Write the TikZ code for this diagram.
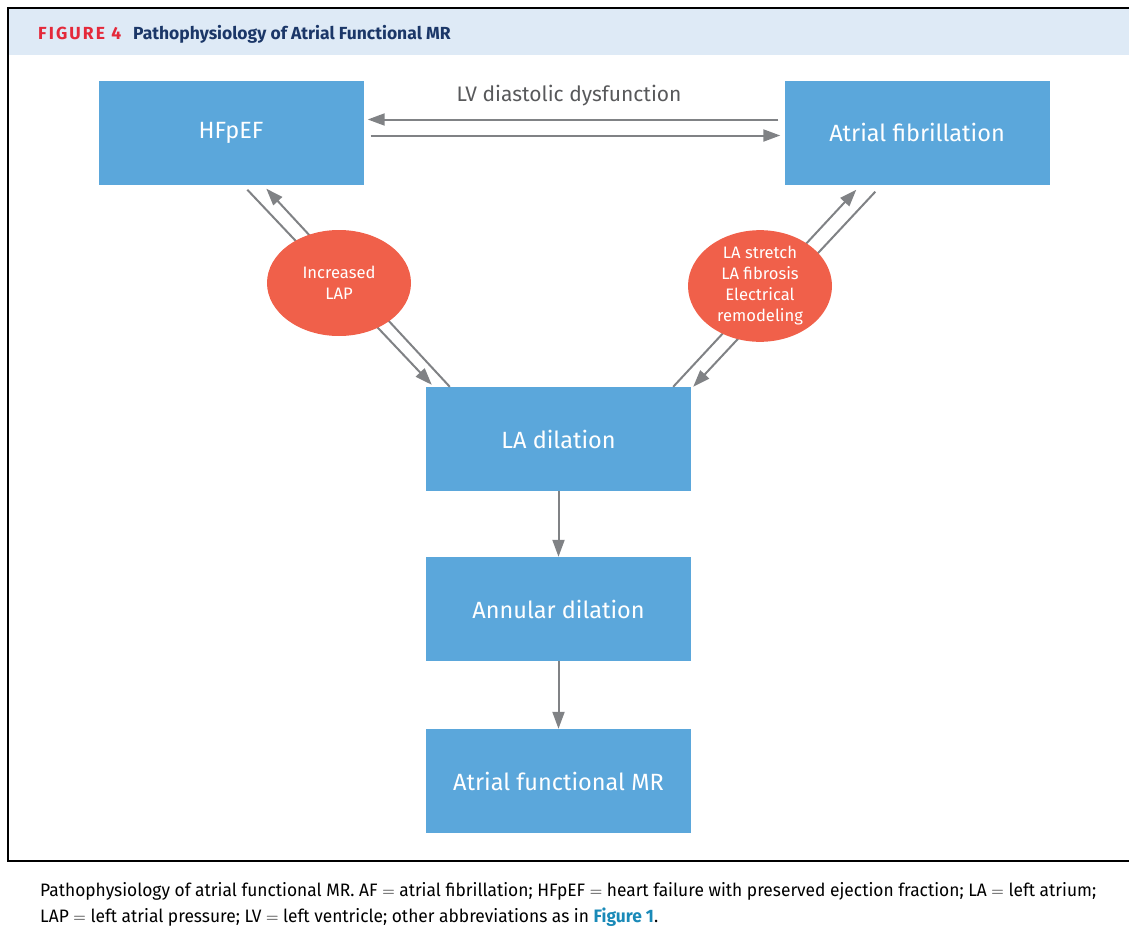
\documentclass[tikz,border=0pt]{standalone}
\usepackage{fontspec}
\setmainfont{Fira Sans}
\newfontfamily\capfont[FakeStretch=0.965]{Fira Sans}
\newfontfamily\figfont[LetterSpace=12]{Fira Sans}
\usetikzlibrary{arrows.meta,shapes.geometric,calc}
\definecolor{boxblue}{HTML}{5BA7DB}
\definecolor{ellred}{HTML}{F0604A}
\definecolor{headbg}{HTML}{DEEAF6}
\definecolor{arrgray}{HTML}{808285}
\definecolor{labgray}{HTML}{58595B}
\definecolor{figred}{HTML}{E4293A}
\definecolor{navy}{HTML}{1B3768}
\definecolor{linkblue}{HTML}{1A8AB8}
\tikzset{
  stepbox/.style={fill=boxblue, draw=none, minimum width=265pt, minimum height=104pt, inner sep=0pt, text=white, font=\fontsize{23.5}{28}\selectfont},
  bubble/.style={ellipse, fill=ellred, draw=none, inner sep=0pt, text=white, align=center, font=\fontsize{16.6}{21}\selectfont},
  flow/.style={draw=arrgray, line width=2pt, -{Triangle[length=17pt,width=12pt]}},
  captext/.style={anchor=base west, inner sep=0pt, font=\capfont\fontsize{18}{21}\selectfont},
}
\begin{document}
\begin{tikzpicture}[x=1pt,y=-1pt]
\useasboundingbox (0,0) rectangle (1129,950);
% frame
\fill[headbg] (9,9) rectangle (1129,55);
\draw[line width=2pt, black] (1129,8) -- (8,8) -- (8,861) -- (1129,861);
\node[anchor=base west, inner sep=0pt, font=\bfseries\fontsize{17.5}{20}\selectfont] (ttl) at (38,40)
  {{\figfont\color{figred}FIGURE 4}\hspace{12pt}{\color{navy}Pathophysiology of Atrial Functional MR}};
% boxes
\node[stepbox] (hf)  at (231,132.5) {HFpEF};
\node[stepbox] (af)  at (917,132.5) {Atrial fibrillation};
\node[stepbox] (la)  at (558.5,439) {LA dilation};
\node[stepbox] (ann) at (558.5,609) {Annular dilation};
\node[stepbox] (amr) at (558.5,781) {Atrial functional MR};
% horizontal arrows
\node[text=labgray, font=\fontsize{21}{24}\selectfont, inner sep=0pt] (lvd) at (569,96) {LV diastolic dysfunction};
\draw[flow] ([xshift=-6pt,yshift=13pt]af.west) -- ([xshift=4pt,yshift=13pt]hf.east);
\draw[flow] ([xshift=7pt,yshift=-3pt]hf.east) -- ([xshift=-4pt,yshift=-3pt]af.west);
% left diagonal
\draw[flow] ([xshift=149pt,yshift=-5pt]hf.south west) -- ([xshift=6pt,yshift=2pt]la.north west);
\draw[flow] ([xshift=24pt]la.north west) -- ([xshift=168pt,yshift=-4pt]hf.south west);
% right diagonal
\draw[flow] ([xshift=-18pt]la.north east) -- ([xshift=72pt,yshift=-5pt]af.south west);
\draw[flow] ([xshift=91pt,yshift=-7pt]af.south west) -- ([xshift=2pt]la.north east);
% vertical arrows
\draw[flow] (la.south) -- (ann.north);
\draw[flow] (ann.south) -- (amr.north);
% ellipses
\node[bubble, minimum width=144pt, minimum height=106pt] (lap) at (339,283) {Increased\\LAP};
\node[bubble, minimum width=144pt, minimum height=102pt] (str) at (760,286) {LA stretch\\LA fibrosis\\Electrical\\remodeling};
% caption
\node[captext] (cap1) at (40,896)
  {Pathophysiology of atrial functional MR. AF $=$ atrial fibrillation; HFpEF $=$ heart failure with preserved ejection fraction; LA $=$ left atrium;};
\node[captext] (cap2) at (40,922)
  {LAP $=$ left atrial pressure; LV $=$ left ventricle; other abbreviations as in {\bfseries\color{linkblue}Figure 1}.};
\end{tikzpicture}
\end{document}
